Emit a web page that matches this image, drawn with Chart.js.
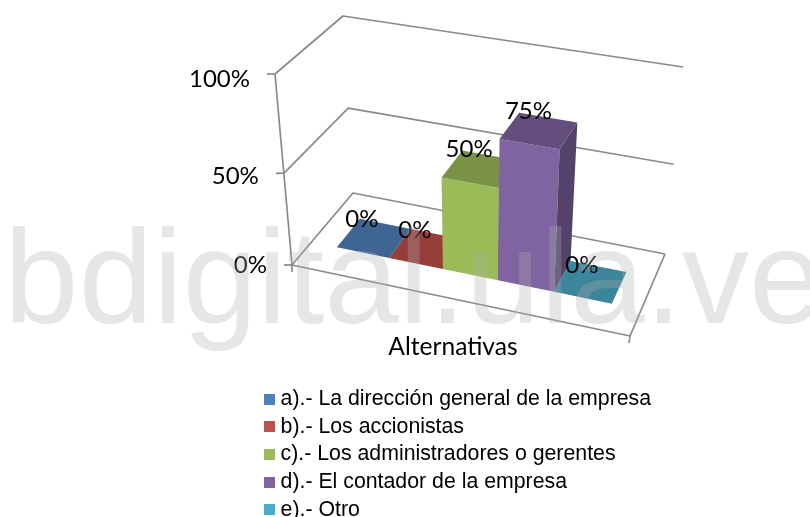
<!DOCTYPE html>
<html><head><meta charset="utf-8">
<style>html,body{margin:0;padding:0;background:#fff;overflow:hidden}canvas{display:block}</style>
<script src="https://cdn.jsdelivr.net/npm/chart.js@4"></script>
</head><body><canvas id="c" width="810" height="517"></canvas>
<script>
const categories = ['a).- La dirección general de la empresa','b).- Los accionistas','c).- Los administradores o gerentes','d).- El contador de la empresa','e).- Otro'];
const values = [0,0,50,75,0];
const colors = ['#4F81BD','#C0504D','#9BBB59','#8064A2','#4BACC6'];
const axisTitle = 'Alternativas';
const watermark = 'bdigital.ula.ve';

// Box corners of the 3D view
const box = {
  flb:[292,265], frb:[630,336], blb:[353,193], brb:[665,254],
  flt:[275,74],  frt:[644,135], blt:[343,16],  brt:[683,67]
};
const lerp=(a,b,t)=>[a[0]+(b[0]-a[0])*t,a[1]+(b[1]-a[1])*t];
function project(u,d,h0){
  const h=h0*(0.92+0.08*h0); // higher points sit closer to the viewer
  const b0=lerp(lerp(box.flb,box.frb,u),lerp(box.blb,box.brb,u),d);
  const t0=lerp(lerp(box.flt,box.frt,u),lerp(box.blt,box.brt,u),d);
  return lerp(b0,t0,h);
}
const U0=0.077,U1=0.911,D0=0.32,D1=0.71;
function shade(hex,f){const n=parseInt(hex.slice(1),16);
  return `rgb(${Math.round((n>>16)*f)},${Math.round(((n>>8)&255)*f)},${Math.round((n&255)*f)})`;}
function poly(ctx,pts,fill){ctx.beginPath();pts.forEach((p,i)=>i?ctx.lineTo(p[0],p[1]):ctx.moveTo(p[0],p[1]));ctx.closePath();ctx.fillStyle=fill;ctx.fill();}
function line(ctx,pts){ctx.beginPath();pts.forEach((p,i)=>i?ctx.lineTo(p[0],p[1]):ctx.moveTo(p[0],p[1]));ctx.stroke();}
function swatch(col){const k=document.createElement('canvas');k.width=11;k.height=11;const g=k.getContext('2d');g.fillStyle=col;g.fillRect(0,0,11,11);return k;}
function mappers(a){
  return {
    U:px=>{const t=(px-a.left)/(a.right-a.left);return U0+t*(0.94+0.06*t)*(U1-U0);},
    H:py=>(a.bottom-py)/(a.bottom-a.top)
  };
}

const view3d={
  id:'view3d',
  afterLayout(chart){
    const l=chart.legend;
    l.left=262.5;l.right=810;l.top=382;l.bottom=620;
  },
  beforeDatasetsDraw(chart){
    const {ctx,chartArea:a,scales:{y}}=chart;
    const {U,H}=mappers(a);
    ctx.save();
    ctx.strokeStyle='#8a8a8a';ctx.lineWidth=1.7;ctx.lineJoin='round';
    y.ticks.forEach(t=>{
      const h=H(y.getPixelForValue(t.value));
      const fl=project(0,0,h),bl=project(0,1,h),br=project(1,1,h);
      line(ctx,[fl,bl,br]);
      line(ctx,[[fl[0]-8,fl[1]],fl]);
      ctx.font='24px Lato';ctx.fillStyle='#000';ctx.textAlign='right';ctx.textBaseline='middle';
      ctx.fillText(t.label,fl[0]-25,fl[1]+5*h);
    });
    const F=project(0,0,0),R=project(1,0,0),B=project(1,1,0);
    line(ctx,[project(0,0,1),F,[F[0],F[1]+7]]);
    line(ctx,[F,R,[R[0]-1,R[1]+7]]);
    line(ctx,[R,B]);
    chart.getDatasetMeta(0).data.forEach((el,i)=>{
      const p=el.getProps(['x','y','base','width'],false);
      const u0=U(p.x-p.width/2),u1=U(p.x+p.width/2),h=H(p.y),c=colors[i];
      poly(ctx,[project(u0,D0,0),project(u1,D0,0),project(u1,D0,h),project(u0,D0,h)],c);
      poly(ctx,[project(u1,D0,0),project(u1,D1,0),project(u1,D1,h),project(u1,D0,h)],shade(c,0.66));
      poly(ctx,[project(u0,D0,h),project(u1,D0,h),project(u1,D1,h),project(u0,D1,h)],shade(c,0.78));
    });
    ctx.restore();
    return false;
  },
  afterDraw(chart){
    const {ctx,chartArea:a,scales:{x}}=chart;
    const {U,H}=mappers(a);
    ctx.save();
    ctx.font='24px Lato';ctx.fillStyle='#000';ctx.textAlign='center';ctx.textBaseline='middle';
    chart.getDatasetMeta(0).data.forEach((el,i)=>{
      const p=el.getProps(['x','y','width'],false);
      const q=project(U(p.x),D0,H(p.y));
      ctx.fillText(values[i]+'%',q[0]-1,q[1]-33);
    });
    ctx.font='24.6px Lato';
    ctx.fillText(x.options.title.text,453,347);
    ctx.font='134px "Liberation Sans"';ctx.textAlign='left';ctx.textBaseline='alphabetic';
    ctx.fillStyle='rgba(172,172,172,0.3)';
    ctx.fillText(watermark,4,323);
    ctx.restore();
  }
};

new Chart(document.getElementById('c'),{
  type:'bar',
  data:{labels:categories,datasets:[{data:values,backgroundColor:colors,barPercentage:1,categoryPercentage:1}]},
  plugins:[view3d],
  options:{
    responsive:false,animation:false,
    layout:{padding:0},
    scales:{
      x:{title:{display:false,text:axisTitle},ticks:{display:false},grid:{display:false},border:{display:false}},
      y:{min:0,max:100,ticks:{display:false,stepSize:50,callback:v=>v+'%'},grid:{display:false},border:{display:false}}
    },
    plugins:{
      tooltip:{enabled:false},
      legend:{position:'left',align:'start',labels:{
        color:'#000',font:{family:'"Liberation Sans"',size:21.3},usePointStyle:true,pointStyleWidth:1,boxHeight:11,padding:6.4,
        generateLabels:()=>categories.map((t,i)=>({text:t,pointStyle:swatch(colors[i]),fillStyle:colors[i],lineWidth:0,hidden:false,index:i}))
      }}
    }
  }
});
</script></body></html>
